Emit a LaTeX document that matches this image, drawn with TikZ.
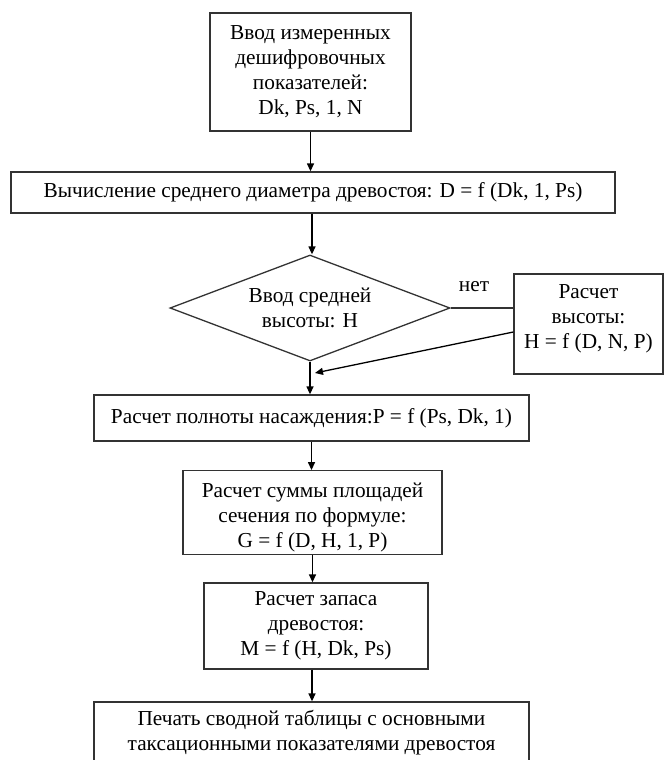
\documentclass[tikz,border=0pt]{standalone}
\usepackage{fontspec}
\setmainfont{Liberation Serif}
\usetikzlibrary{shapes.geometric,arrows.meta}
\tikzset{
  fcbox/.style={draw=black!80, line width=1.3pt, align=center, inner sep=2pt, font=\fontsize{21.3}{25}\selectfont},
  fcdec/.style={draw=black!80, line width=1.3pt, shape=diamond, aspect=2.64, align=center, inner sep=0pt, font=\fontsize{21.3}{25}\selectfont},
  fclabel/.style={font=\fontsize{21.3}{25}\selectfont, inner sep=0pt},
  fcarrow/.style={draw=black, line width=1.3pt, -{Triangle[length=8pt,width=7pt]}},
  fcline/.style={draw=black!80, line width=1.3pt},
}

\begin{document}
\begin{tikzpicture}[x=1pt, y=-1pt]
\useasboundingbox (0,0) rectangle (664,760);
\node[fcbox, minimum width=201pt, minimum height=118pt] (meas) at (310.5,72) {Ввод измеренных\\дешифровочных\\показателей:\\Dk, Ps, 1, N};
\node[fcbox, minimum width=604pt, minimum height=41pt] (diam) at (313,192.5) {Вычисление среднего диаметра древостоя: D = f (Dk, 1, Ps)};
\node[fcdec, minimum width=280pt, minimum height=106pt] (hin) at (310,308) {Ввод средней\\высоты: H};
\node[fcbox, minimum width=149pt, minimum height=100pt] (hcalc) at (588.5,324) {Расчет\\высоты:\\H = f (D, N, P)\rule[-14pt]{0pt}{14pt}};
\node[fcbox, minimum width=435pt, minimum height=46pt] (dens) at (311.5,418) {Расчет полноты насаждения:P = f (Ps, Dk, 1)};
\node[fcbox, minimum width=259pt, minimum height=81pt] (basal) at (312.5,512.5) {\rule{0pt}{25pt}Расчет суммы площадей\\сечения по формуле:\\G = f (D, H, 1, P)};
\node[fcbox, minimum width=224pt, minimum height=86pt] (stock) at (316,626) {Расчет запаса\\древостоя:\\M = f (H, Dk, Ps)};
\node[fcbox, minimum width=435pt, minimum height=62pt] (report) at (311.5,733) {Печать сводной таблицы с основными\\таксационными показателями древостоя};
\node[fclabel] (no) at (474,287) {нет};
\coordinate (join) at (315,373);

% main flow
\draw[fcarrow] (meas.south) -- (meas.south |- diam.north);
\draw[fcarrow] ([xshift=-1pt]diam.south) -- ([xshift=-1pt]diam.south |- hin.north);
\draw[fcarrow] (hin.south) -- (hin.south |- dens.north);
\draw[fcarrow] (dens.south) -- (dens.south |- basal.north);
\draw[fcarrow] (basal.south) -- (basal.south |- stock.north);
\draw[fcarrow] ([xshift=-4pt]stock.south) -- ([xshift=-4pt]stock.south |- report.north);

% branch
\draw[fcline] (hin.east) -- (hin.east -| hcalc.west);
\draw[fcarrow] ([yshift=-8pt]hcalc.west) -- (join);
\end{tikzpicture}
\end{document}
